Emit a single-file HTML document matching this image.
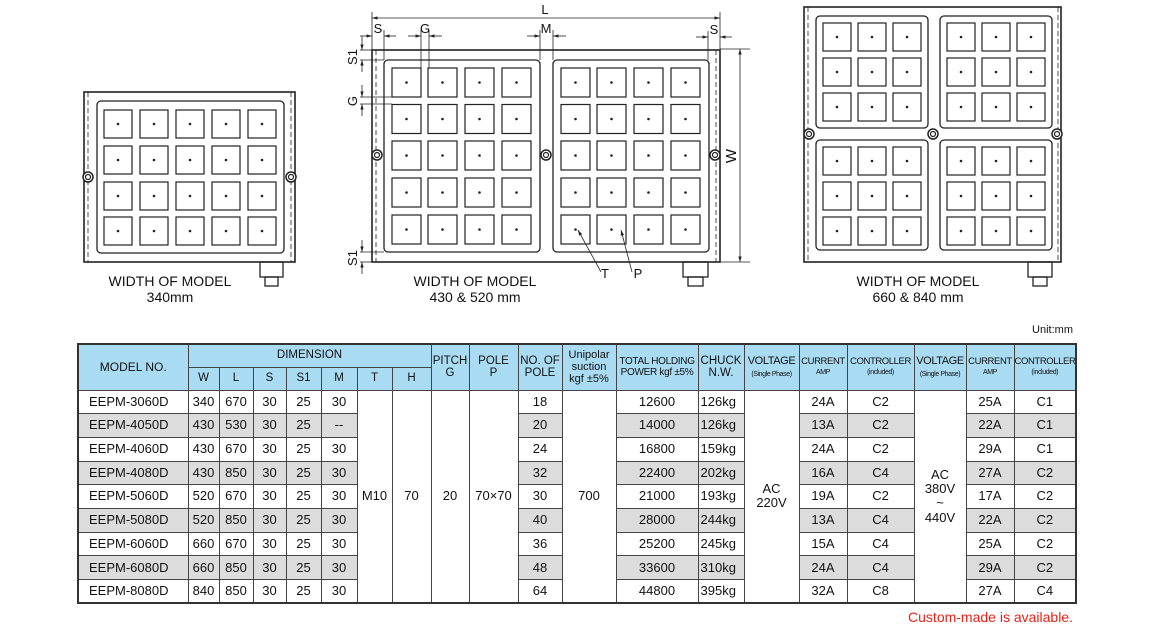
<!DOCTYPE html>
<html><head><meta charset="utf-8">
<style>
body{margin:0;width:1150px;height:630px;background:#fff;position:relative;overflow:hidden;font-family:"Liberation Sans",Arial,sans-serif;}
svg{position:absolute;left:0;top:0}
table{position:absolute;left:77px;top:343px;border-collapse:collapse;table-layout:fixed;width:998px;font-size:13px;color:#111;border:2px solid #333}
td{border:1px solid #444;text-align:center;padding:0;white-space:nowrap;overflow:hidden;line-height:1.1}
tr.h td{background:#a9dbf3;font-size:11.5px}
tr.h1{height:23px}tr.h2{height:23px}
tr.d{height:23.7px}
td.m{text-align:left;padding-left:10px}
td.k{text-align:left;padding-left:2px}
tr.g td.c{background:#dcdcdc}
td.n{font-size:9.5px!important;letter-spacing:-0.4px}
td.v{font-size:11px!important;letter-spacing:-0.4px}
.cap{position:absolute;font-size:14px;text-align:center;line-height:16px;color:#111}
</style></head><body>
<svg id="sv" width="1150" height="630" xmlns="http://www.w3.org/2000/svg" font-family="Liberation Sans, Arial, sans-serif" fill="none" stroke="#222" stroke-width="1.3">
<defs><marker id="a" viewBox="0 0 10 10" refX="10" refY="5" markerWidth="7" markerHeight="7" orient="auto-start-reverse"><path d="M0,2 L10,5 L0,8z" fill="#222" stroke="none"/></marker></defs>
<rect x="84" y="92" width="211" height="170" stroke-width="1.6"/>
<line x1="88" y1="92" x2="88" y2="262" stroke-dasharray="5,3" stroke-width="0.8"/>
<line x1="291" y1="92" x2="291" y2="262" stroke-dasharray="5,3" stroke-width="0.8"/>
<rect x="97" y="101" width="187" height="152" rx="4"/>
<rect x="260" y="262" width="23" height="15"/><rect x="265" y="277" width="13" height="9"/>
<rect x="372" y="50" width="348" height="212" stroke-width="1.6"/>
<line x1="376" y1="50" x2="376" y2="262" stroke-dasharray="5,3" stroke-width="0.8"/>
<line x1="716" y1="50" x2="716" y2="262" stroke-dasharray="5,3" stroke-width="0.8"/>
<rect x="384" y="60" width="156" height="192" rx="4"/>
<rect x="553" y="60" width="156" height="192" rx="4"/>
<rect x="683" y="262" width="25" height="15"/><rect x="688" y="277" width="15" height="9"/>
<rect x="804" y="7" width="257" height="255" stroke-width="1.6"/>
<line x1="808" y1="7" x2="808" y2="262" stroke-dasharray="5,3" stroke-width="0.8"/>
<line x1="1058" y1="7" x2="1058" y2="262" stroke-dasharray="5,3" stroke-width="0.8"/>
<rect x="816" y="16" width="112" height="112" rx="4"/>
<rect x="940" y="16" width="112" height="112" rx="4"/>
<rect x="816" y="140" width="112" height="110" rx="4"/>
<rect x="940" y="140" width="112" height="110" rx="4"/>
<rect x="1028" y="262" width="24" height="15"/><rect x="1033" y="277" width="14" height="9"/>
<g id="sq" stroke-width="1.2"></g>
<g stroke-width="0.8">
<line x1="372" y1="12" x2="372" y2="50"/><line x1="720" y1="12" x2="720" y2="50"/>
<line x1="372" y1="18" x2="720" y2="18" marker-start="url(#a)" marker-end="url(#a)"/>
<line x1="360" y1="36" x2="372" y2="36" marker-end="url(#a)"/><line x1="396" y1="36" x2="384" y2="36" marker-end="url(#a)"/>
<line x1="384" y1="30" x2="384" y2="60"/>
<line x1="408" y1="36" x2="421" y2="36" marker-end="url(#a)"/><line x1="442" y1="36" x2="429" y2="36" marker-end="url(#a)"/>
<line x1="421" y1="30" x2="421" y2="68"/><line x1="429" y1="30" x2="429" y2="68"/>
<line x1="527" y1="36" x2="540" y2="36" marker-end="url(#a)"/><line x1="566" y1="36" x2="553" y2="36" marker-end="url(#a)"/>
<line x1="540" y1="30" x2="540" y2="60"/><line x1="553" y1="30" x2="553" y2="60"/>
<line x1="696" y1="37" x2="708" y2="37" marker-end="url(#a)"/><line x1="732" y1="37" x2="720" y2="37" marker-end="url(#a)"/>
<line x1="708" y1="31" x2="708" y2="60"/>
<line x1="360" y1="50" x2="372" y2="50"/><line x1="360" y1="60" x2="384" y2="60"/>
<line x1="362" y1="36" x2="362" y2="50" marker-end="url(#a)"/><line x1="362" y1="72" x2="362" y2="60" marker-end="url(#a)"/>
<line x1="360" y1="97" x2="392" y2="97"/><line x1="360" y1="104" x2="392" y2="104"/>
<line x1="362" y1="85" x2="362" y2="97" marker-end="url(#a)"/><line x1="362" y1="116" x2="362" y2="104" marker-end="url(#a)"/>
<line x1="360" y1="252" x2="384" y2="252"/><line x1="360" y1="262" x2="372" y2="262"/>
<line x1="362" y1="240" x2="362" y2="252" marker-end="url(#a)"/><line x1="362" y1="274" x2="362" y2="262" marker-end="url(#a)"/>
<line x1="720" y1="49" x2="750" y2="49"/><line x1="720" y1="262" x2="750" y2="262"/>
<line x1="740" y1="49" x2="740" y2="262" marker-start="url(#a)" marker-end="url(#a)"/>
<line x1="601" y1="272" x2="578" y2="230" marker-end="url(#a)"/>
<line x1="632" y1="272" x2="621" y2="230" marker-end="url(#a)"/>
</g>
<g fill="#111" stroke="none" font-size="13">
<text x="545" y="14" text-anchor="middle">L</text>
<text x="378" y="33" text-anchor="middle">S</text>
<text x="425" y="33" text-anchor="middle">G</text>
<text x="546" y="33" text-anchor="middle">M</text>
<text x="714" y="34" text-anchor="middle">S</text>
<text transform="translate(357,57) rotate(-90)" text-anchor="middle">S1</text>
<text transform="translate(357,101) rotate(-90)" text-anchor="middle">G</text>
<text transform="translate(357,258) rotate(-90)" text-anchor="middle">S1</text>
<text transform="translate(736,156) rotate(-90)" text-anchor="middle" font-size="15">W</text>
<text x="605" y="278" text-anchor="middle">T</text>
<text x="638" y="278" text-anchor="middle">P</text>
<text x="1073" y="333" text-anchor="end" font-size="11">Unit:mm</text>
<text x="1073" y="622" text-anchor="end" font-size="14" fill="#e3241b">Custom-made is available.</text>
</g>
</svg>
<div class="cap" style="left:80px;top:273px;width:180px">WIDTH OF MODEL<br>340mm</div>
<div class="cap" style="left:385px;top:273px;width:180px">WIDTH OF MODEL<br>430 &amp; 520 mm</div>
<div class="cap" style="left:828px;top:273px;width:180px">WIDTH OF MODEL<br>660 &amp; 840 mm</div>
<table>
<colgroup><col style="width:110px"><col style="width:31px"><col style="width:34px"><col style="width:33px"><col style="width:35px"><col style="width:36px"><col style="width:35px"><col style="width:39px"><col style="width:38px"><col style="width:49px"><col style="width:44px"><col style="width:54px"><col style="width:82px"><col style="width:46px"><col style="width:55px"><col style="width:48px"><col style="width:67px"><col style="width:52px"><col style="width:48px"><col style="width:62px"></colgroup>
<tr class="h h1"><td rowspan="2" style="font-size:12px">MODEL NO.</td><td colspan="7">DIMENSION</td><td rowspan="2">PITCH<br>G</td><td rowspan="2">POLE<br>P</td><td rowspan="2">NO. OF<br>POLE</td><td rowspan="2" style="font-size:11px">Unipolar<br>suction<br>kgf ±5%</td><td rowspan="2" style="font-size:10px;letter-spacing:-0.3px">TOTAL HOLDING<br>POWER kgf ±5%</td><td rowspan="2">CHUCK<br>N.W.</td><td rowspan="2" class="v">VOLTAGE<br><span style="font-size:7px">(Single Phase)</span></td><td rowspan="2" class="n">CURRENT<br><span style="font-size:7px">AMP</span></td><td rowspan="2" class="n">CONTROLLER<br><span style="font-size:7px">(included)</span></td><td rowspan="2" class="v">VOLTAGE<br><span style="font-size:7px">(Single Phase)</span></td><td rowspan="2" class="n">CURRENT<br><span style="font-size:7px">AMP</span></td><td rowspan="2" class="n">CONTROLLER<br><span style="font-size:7px">(included)</span></td></tr>
<tr class="h h2"><td>W</td><td>L</td><td>S</td><td>S1</td><td>M</td><td>T</td><td>H</td></tr>
<tr class="d"><td class="c m">EEPM-3060D</td><td class="c">340</td><td class="c">670</td><td class="c">30</td><td class="c">25</td><td class="c">30</td><td rowspan="9">M10</td><td rowspan="9">70</td><td rowspan="9">20</td><td rowspan="9">70×70</td><td class="c">18</td><td rowspan="9">700</td><td class="c">12600</td><td class="c k">126kg</td><td rowspan="9">AC<br>220V</td><td class="c">24A</td><td class="c">C2</td><td rowspan="9">AC<br>380V<br>~<br>440V</td><td class="c">25A</td><td class="c">C1</td></tr>
<tr class="d g"><td class="c m">EEPM-4050D</td><td class="c">430</td><td class="c">530</td><td class="c">30</td><td class="c">25</td><td class="c">--</td><td class="c">20</td><td class="c">14000</td><td class="c k">126kg</td><td class="c">13A</td><td class="c">C2</td><td class="c">22A</td><td class="c">C1</td></tr>
<tr class="d"><td class="c m">EEPM-4060D</td><td class="c">430</td><td class="c">670</td><td class="c">30</td><td class="c">25</td><td class="c">30</td><td class="c">24</td><td class="c">16800</td><td class="c k">159kg</td><td class="c">24A</td><td class="c">C2</td><td class="c">29A</td><td class="c">C1</td></tr>
<tr class="d g"><td class="c m">EEPM-4080D</td><td class="c">430</td><td class="c">850</td><td class="c">30</td><td class="c">25</td><td class="c">30</td><td class="c">32</td><td class="c">22400</td><td class="c k">202kg</td><td class="c">16A</td><td class="c">C4</td><td class="c">27A</td><td class="c">C2</td></tr>
<tr class="d"><td class="c m">EEPM-5060D</td><td class="c">520</td><td class="c">670</td><td class="c">30</td><td class="c">25</td><td class="c">30</td><td class="c">30</td><td class="c">21000</td><td class="c k">193kg</td><td class="c">19A</td><td class="c">C2</td><td class="c">17A</td><td class="c">C2</td></tr>
<tr class="d g"><td class="c m">EEPM-5080D</td><td class="c">520</td><td class="c">850</td><td class="c">30</td><td class="c">25</td><td class="c">30</td><td class="c">40</td><td class="c">28000</td><td class="c k">244kg</td><td class="c">13A</td><td class="c">C4</td><td class="c">22A</td><td class="c">C2</td></tr>
<tr class="d"><td class="c m">EEPM-6060D</td><td class="c">660</td><td class="c">670</td><td class="c">30</td><td class="c">25</td><td class="c">30</td><td class="c">36</td><td class="c">25200</td><td class="c k">245kg</td><td class="c">15A</td><td class="c">C4</td><td class="c">25A</td><td class="c">C2</td></tr>
<tr class="d g"><td class="c m">EEPM-6080D</td><td class="c">660</td><td class="c">850</td><td class="c">30</td><td class="c">25</td><td class="c">30</td><td class="c">48</td><td class="c">33600</td><td class="c k">310kg</td><td class="c">24A</td><td class="c">C4</td><td class="c">29A</td><td class="c">C2</td></tr>
<tr class="d"><td class="c m">EEPM-8080D</td><td class="c">840</td><td class="c">850</td><td class="c">30</td><td class="c">25</td><td class="c">30</td><td class="c">64</td><td class="c">44800</td><td class="c k">395kg</td><td class="c">32A</td><td class="c">C8</td><td class="c">27A</td><td class="c">C4</td></tr>
</table>
<script>
(function(){
var g=document.getElementById('sq'),s='';
function sq(x,y,z){s+='<rect x="'+x+'" y="'+y+'" width="'+z+'" height="'+z+'"/><circle cx="'+(x+z/2)+'" cy="'+(y+z/2)+'" r="1.3" fill="#222" stroke="none"/>';}
function grid(xs,ys,z){xs.forEach(function(x){ys.forEach(function(y){sq(x,y,z);});});}
grid([104,140,176,212,248],[110,146,182,217],28);
grid([392,428,465,502,561,597,634,671],[68,104.5,141,178,215],29);
grid([823,858,893,947,982,1017],[23,58,93,147,182,217],28);
function ring(x,y){s+='<circle cx="'+x+'" cy="'+y+'" r="5" fill="#fff" stroke-width="1.5"/><circle cx="'+x+'" cy="'+y+'" r="2.5" stroke-width="1.2"/>';}
ring(88,177);ring(291,177);ring(377,155);ring(546,155);ring(715,155);ring(809,134);ring(933,134);ring(1057,134);
g.innerHTML=s;
})();
</script>
</body></html>
